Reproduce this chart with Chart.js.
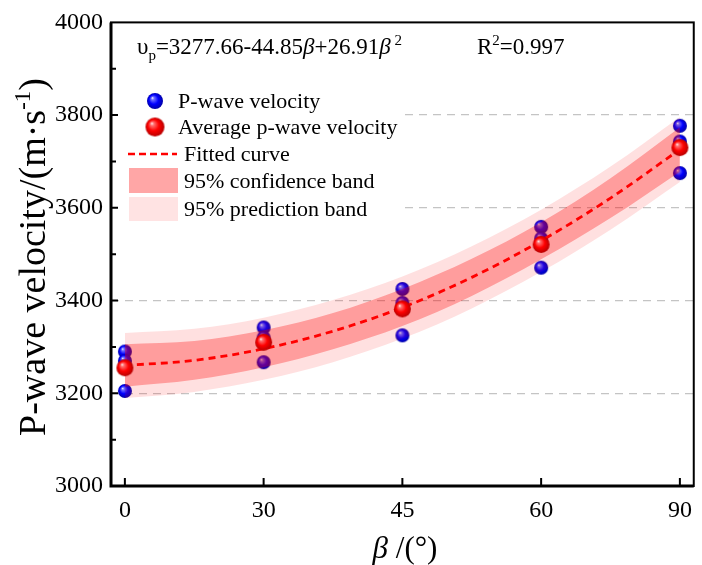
<!DOCTYPE html>
<html lang="en">
<head>
    <meta charset="UTF-8">
    <title>P-wave velocity vs beta</title>
    <script src="https://cdn.jsdelivr.net/npm/chart.js"></script>
    <style>
        body {
            margin: 0;
            background: #ffffff;
        }
        canvas {
            display: block;
        }
    </style>
</head>
<body>
    <canvas id="vpChart" width="702" height="565"></canvas>
    <script>
        // x axis categories (equally spaced), plotted at index 0..4
        const angles = ["0", "30", "45", "60", "90"];

        // measured p-wave velocities, three per angle (m/s)
        const pwaveX = [0, 0, 0, 1, 1, 1, 2, 2, 2, 3, 3, 3, 4, 4, 4];
        const pwaveVel = [3290, 3270, 3205, 3342, 3320, 3267, 3425, 3395, 3325, 3559, 3534, 3471, 3777, 3743, 3675];

        // averages per angle
        const avgVel = [3255, 3310, 3382, 3521, 3730];

        // fitted curve and bands at half steps
        const curveX = [0, 0.5, 1, 1.5, 2, 2.5, 3, 3.5, 4];
        const fitVel = [3260, 3271, 3296, 3334, 3385, 3450, 3529, 3621, 3726];
        const confUpper = [3306, 3313, 3336, 3373, 3425, 3490, 3569, 3664, 3774];
        const confLower = [3214, 3229, 3256, 3295, 3345, 3410, 3489, 3578, 3678];
        const predUpper = [3330, 3339, 3363, 3401, 3452, 3517, 3596, 3689, 3796];
        const predLower = [3190, 3203, 3229, 3267, 3318, 3383, 3462, 3553, 3656];

        const serif = "'Liberation Serif', 'Times New Roman', serif";

        function makeBall(r, light, base, dark) {
            const c = document.createElement("canvas");
            c.width = 2 * r + 2;
            c.height = 2 * r + 2;
            const g = c.getContext("2d");
            const cx = r + 1, cy = r + 1;
            const grad = g.createRadialGradient(cx - r * 0.35, cy - r * 0.4, 0, cx, cy, r * 1.05);
            grad.addColorStop(0, "#ffffff");
            grad.addColorStop(0.18, light);
            grad.addColorStop(0.55, base);
            grad.addColorStop(1, dark);
            g.fillStyle = grad;
            g.beginPath();
            g.arc(cx, cy, r, 0, Math.PI * 2);
            g.fill();
            return c;
        }

        const blueBall = makeBall(7, "#7070ff", "#0000ff", "#0000a0");
        const redBall = makeBall(8.5, "#ff7070", "#ff0000", "#b00000");
        const blueBallLg = makeBall(8, "#7070ff", "#0000ff", "#0000a0");
        const redBallLg = makeBall(9.5, "#ff7070", "#ff0000", "#b00000");

        const toPts = (xs, ys) => ys.map((y, i) => ({ x: xs[i], y: y }));

        // draw a run of text pieces: [text, size, italic, dy]
        function drawRich(ctx, x, y, parts) {
            let cx = x;
            parts.forEach(p => {
                ctx.font = (p[2] ? "italic " : "") + p[1] + "px " + serif;
                ctx.fillText(p[0], cx, y + (p[3] || 0));
                cx += ctx.measureText(p[0]).width;
            });
            return cx;
        }
        function richWidth(ctx, parts) {
            let w = 0;
            parts.forEach(p => {
                ctx.font = (p[2] ? "italic " : "") + p[1] + "px " + serif;
                w += ctx.measureText(p[0]).width;
            });
            return w;
        }

        const decorPlugin = {
            id: "decor",
            afterDraw(chart) {
                const ctx = chart.ctx;
                const a = chart.chartArea;
                const xs = chart.scales.x, ys = chart.scales.y;
                ctx.save();

                // legend box, hides the grid lines behind it
                ctx.fillStyle = "#ffffff";
                ctx.fillRect(a.left + 2, 82, 405 - a.left - 2, 146);

                ctx.fillStyle = "#000000";
                ctx.textBaseline = "middle";
                ctx.font = "22px " + serif;
                ctx.drawImage(blueBallLg, 155 - blueBallLg.width / 2, 101 - blueBallLg.height / 2);
                ctx.fillText("P-wave velocity", 178, 102);
                ctx.drawImage(redBallLg, 155 - redBallLg.width / 2, 127 - redBallLg.height / 2);
                ctx.fillText("Average p-wave velocity", 178, 128);

                ctx.strokeStyle = "#ff0000";
                ctx.lineWidth = 2.5;
                ctx.setLineDash([7, 4]);
                ctx.beginPath();
                ctx.moveTo(128, 154);
                ctx.lineTo(177, 154);
                ctx.stroke();
                ctx.setLineDash([]);
                ctx.fillText("Fitted curve", 184, 155);

                ctx.fillStyle = "#ffa6a6";
                ctx.fillRect(129, 168, 49, 25);
                ctx.fillStyle = "#ffe3e3";
                ctx.fillRect(129, 197, 49, 24);
                ctx.fillStyle = "#000000";
                ctx.fillText("95% confidence band", 184, 182);
                ctx.fillText("95% prediction band", 184, 210);

                // inward ticks
                ctx.strokeStyle = "#000000";
                ctx.lineWidth = 2;
                ctx.beginPath();
                angles.forEach((t, i) => {
                    const px = xs.getPixelForValue(i);
                    ctx.moveTo(px, a.bottom);
                    ctx.lineTo(px, a.bottom - 8);
                });
                for (let v = 3100; v < 4000; v += 100) {
                    const py = ys.getPixelForValue(v);
                    ctx.moveTo(a.left, py);
                    ctx.lineTo(a.left + (v % 200 === 0 ? 7 : 5), py);
                }
                ctx.stroke();

                // frame: thicker left and bottom axes
                ctx.lineWidth = 2;
                ctx.strokeRect(a.left, a.top, a.right - a.left, a.bottom - a.top);
                ctx.lineWidth = 3;
                ctx.beginPath();
                ctx.moveTo(a.left, a.top);
                ctx.lineTo(a.left, a.bottom);
                ctx.lineTo(a.right, a.bottom);
                ctx.stroke();

                // equation
                ctx.textBaseline = "alphabetic";
                drawRich(ctx, 137, 54, [
                    ["υ", 23], ["p", 15, false, 6], ["=3277.66-44.85", 23],
                    ["β", 23, true], ["+26.91", 23], ["β", 23, true], [" 2", 15, false, -9]
                ]);
                drawRich(ctx, 477, 54, [["R", 23], ["2", 15, false, -9], ["=0.997", 23]]);

                // x title
                const xt = [["β", 31, true], [" /(°)", 31]];
                drawRich(ctx, 405 - richWidth(ctx, xt) / 2, 558, xt);

                // y title
                const yt = [["P-wave velocity/(m·s", 38], ["-1", 23, false, -15], [")", 38]];
                ctx.translate(45, 257);
                ctx.rotate(-Math.PI / 2);
                drawRich(ctx, -richWidth(ctx, yt) / 2, 0, yt);
                ctx.restore();
            }
        };

        new Chart(document.getElementById("vpChart"), {
            type: "line",
            data: {
                datasets: [
                    {
                        label: "Average p-wave velocity",
                        data: toPts([0, 1, 2, 3, 4], avgVel),
                        showLine: false,
                        pointStyle: redBall,
                        order: 0
                    },
                    {
                        label: "Fitted curve",
                        data: toPts(curveX, fitVel),
                        borderColor: "#ff0000",
                        borderWidth: 2.8,
                        borderDash: [7, 5],
                        pointRadius: 0,
                        cubicInterpolationMode: "monotone",
                        fill: false,
                        order: 1
                    },
                    {
                        label: "95% confidence band",
                        data: toPts(curveX, confUpper),
                        borderWidth: 0,
                        borderColor: "rgba(0,0,0,0)",
                        backgroundColor: "rgba(255, 0, 0, 0.3)",
                        pointRadius: 0,
                        cubicInterpolationMode: "monotone",
                        fill: "+1",
                        order: 2
                    },
                    {
                        label: "conf lower",
                        data: toPts(curveX, confLower),
                        borderWidth: 0,
                        borderColor: "rgba(0,0,0,0)",
                        pointRadius: 0,
                        cubicInterpolationMode: "monotone",
                        fill: false,
                        order: 3
                    },
                    {
                        label: "95% prediction band",
                        data: toPts(curveX, predUpper),
                        borderWidth: 0,
                        borderColor: "rgba(0,0,0,0)",
                        backgroundColor: "rgba(255, 0, 0, 0.12)",
                        pointRadius: 0,
                        cubicInterpolationMode: "monotone",
                        fill: "+1",
                        order: 4
                    },
                    {
                        label: "pred lower",
                        data: toPts(curveX, predLower),
                        borderWidth: 0,
                        borderColor: "rgba(0,0,0,0)",
                        pointRadius: 0,
                        cubicInterpolationMode: "monotone",
                        fill: false,
                        order: 5
                    },
                    {
                        label: "P-wave velocity",
                        data: toPts(pwaveX, pwaveVel),
                        showLine: false,
                        pointStyle: blueBall,
                        order: 6
                    }
                ]
            },
            options: {
                responsive: false,
                animation: false,
                events: [],
                layout: {
                    padding: { top: 15, right: 3, left: 0, bottom: 0 }
                },
                plugins: {
                    legend: { display: false },
                    tooltip: { enabled: false }
                },
                scales: {
                    x: {
                        type: "linear",
                        min: -0.1,
                        max: 4.1,
                        afterBuildTicks: s => { s.ticks = angles.map((t, i) => ({ value: i })); },
                        afterFit: s => { s.height = 79; },
                        grid: { display: false, drawTicks: false },
                        border: { display: false },
                        ticks: {
                            padding: 10,
                            color: "#000000",
                            font: { family: serif, size: 24 },
                            callback: v => angles[v]
                        }
                    },
                    y: {
                        min: 3000,
                        max: 4000,
                        afterBuildTicks: s => {
                            const t = [];
                            for (let v = 3000; v <= 4000; v += 200) t.push({ value: v });
                            s.ticks = t;
                        },
                        afterFit: s => { s.width = 111; },
                        grid: {
                            drawTicks: false,
                            lineWidth: 1.3,
                            color: c => (c.tick && c.tick.value > 3000 && c.tick.value < 4000) ? "#c4c4c4" : "rgba(0,0,0,0)"
                        },
                        border: { display: false, dash: [8, 6] },
                        ticks: {
                            padding: 8,
                            color: "#000000",
                            font: { family: serif, size: 24 },
                            callback: v => String(v)
                        }
                    }
                }
            },
            plugins: [decorPlugin]
        });
    </script>
</body>
</html>
